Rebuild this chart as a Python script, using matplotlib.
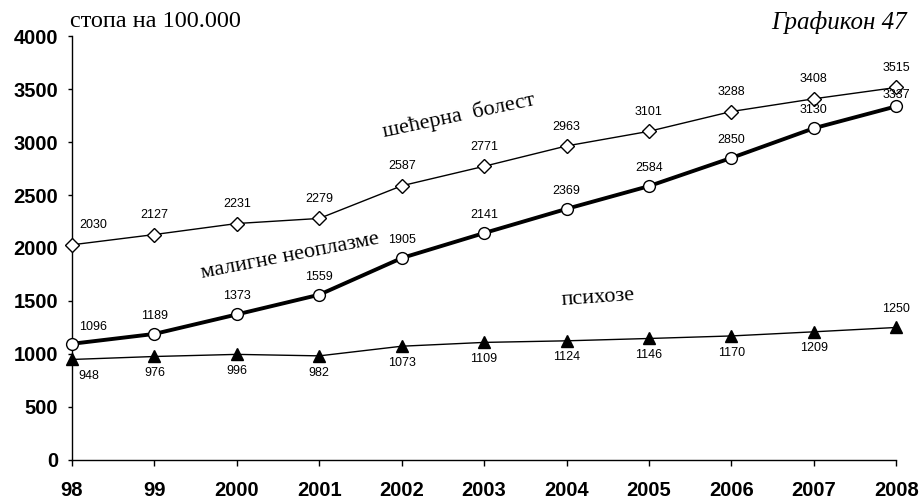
import matplotlib.pyplot as plt

years = ['98', '99', '2000', '2001', '2002', '2003', '2004', '2005', '2006', '2007', '2008']
diabetes = [2030, 2127, 2231, 2279, 2587, 2771, 2963, 3101, 3288, 3408, 3515]
neoplasms = [1096, 1189, 1373, 1559, 1905, 2141, 2369, 2584, 2850, 3130, 3337]
psychoses = [948, 976, 996, 982, 1073, 1109, 1124, 1146, 1170, 1209, 1250]

x = list(range(len(years)))

fig = plt.figure(figsize=(9.23, 5.01), dpi=100)
ax = fig.add_axes([0.078, 0.082, 0.893, 0.846])

ax.plot(x, diabetes, color='black', lw=1, marker='D', ms=7, mfc='white', mec='black', mew=1, zorder=3)
ax.plot(x, neoplasms, color='black', lw=2.8, marker='o', ms=8.5, mfc='white', mec='black', mew=1, zorder=4)
ax.plot(x, psychoses, color='black', lw=1, marker='^', ms=9, mfc='black', mec='black', zorder=3)

lab = dict(fontsize=9, family='Liberation Sans', ha='center', va='center', textcoords='offset points')
for i, v in enumerate(diabetes):
    dx = 15 if i == 0 else 0
    ax.annotate(str(v), (i, v), xytext=(dx, 14), **lab)
for i, v in enumerate(neoplasms):
    if i == 0:
        off = (15, 12)
    elif i == len(neoplasms) - 1:
        off = (0, 8)
    else:
        off = (0, 13)
    ax.annotate(str(v), (i, v), xytext=off, **lab)
for i, v in enumerate(psychoses):
    if i == 0:
        off = (12, -12)
    elif i == len(psychoses) - 1:
        off = (0, 13)
    else:
        off = (0, -12)
    ax.annotate(str(v), (i, v), xytext=off, **lab)

serif = 'Liberation Serif'
ax.text(4.69, 3250, 'шећерна  болест', family=serif, fontsize=16, rotation=12,
        ha='center', va='center')
ax.text(2.65, 1925, 'малигне неоплазме', family=serif, fontsize=16, rotation=11,
        ha='center', va='center')
ax.text(6.38, 1525, 'психозе', family=serif, fontsize=16, rotation=4,
        ha='center', va='center')
fig.text(0.076, 0.958, 'стопа на 100.000', family=serif, fontsize=17.5, ha='left', va='center')
fig.text(0.983, 0.956, 'Графикон 47', family=serif, fontsize=18, style='italic',
         ha='right', va='center')

ax.set_xlim(0, 10)
ax.set_ylim(0, 4000)
ax.set_xticks(x)
ax.set_xticklabels(years)
ax.set_yticks(range(0, 4001, 500))
for t in ax.get_xticklabels() + ax.get_yticklabels():
    t.set_family('Liberation Sans')
    t.set_fontweight('bold')
    t.set_fontsize(14.5)
ax.tick_params(axis='x', direction='out', length=4, width=1, color='black', pad=11)
ax.tick_params(axis='y', direction='out', length=3, width=1, color='black', pad=7)
ax.spines['top'].set_visible(False)
ax.spines['right'].set_visible(False)
for s in ['left', 'bottom']:
    ax.spines[s].set_linewidth(1)
for line in ax.lines:
    line.set_clip_on(False)

plt.savefig('out.png', dpi=100)
